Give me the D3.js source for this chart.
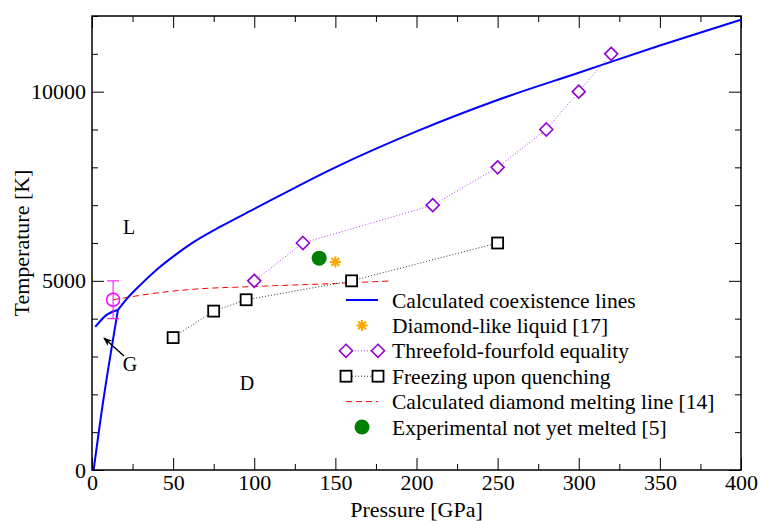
<!DOCTYPE html>
<html>
<head>
<meta charset="utf-8">
<script src="https://cdn.jsdelivr.net/npm/d3@7"></script>
</head>
<body style="margin:0;background:#fff">
<svg id="chart" width="760" height="521"></svg>
<script>
// coexistence lines (GPa, K)
const meltCurve = [[16, 4230], [20, 4450], [30, 4900], [40, 5300], [50, 5640], [60, 5950], [80, 6450],
  [100, 6900], [150, 8000], [200, 8950], [250, 9780], [300, 10500], [350, 11220], [400, 11900]];
const graphiteLiquid = [[2, 3780], [9, 4100], [16, 4230]];
const graphiteDiamond = [[1, 0], [7, 1850], [16, 4230]];
// other data sets
const diamondLiquid = [[150, 5500]];
const threefold = [[100, 5000], [130, 6000], [210, 7000], [250, 8000], [280, 9000], [300, 10000], [320, 11000]];
const freezing = [[50, 3500], [75, 4200], [95, 4500], [160, 5000], [250, 6000]];
const meltLine14 = [[13, 4500], [20, 4550], [40, 4680], [60, 4770], [100, 4850], [150, 4930], [185, 5000]];
const experimental = [[140, 5600]];
const graphitePoint = { x: 13, y: 4500, err: 500 };

const xTicks = d3.range(0, 401, 50);
const yTicks = [0, 5000, 10000];

const legendItems = [
  "Calculated coexistence lines",
  "Diamond-like liquid [17]",
  "Threefold-fourfold equality",
  "Freezing upon quenching",
  "Calculated diamond melting line [14]",
  "Experimental not yet melted [5]"
];

const svg = d3.select("#chart");
const m = { left: 92, right: 741, top: 16, bottom: 470 };

const x = d3.scaleLinear().domain([0, 400]).range([m.left, m.right]);
const y = d3.scaleLinear().domain([0, 12000]).range([m.bottom, m.top]);

const line = d3.line().x(d => x(d[0])).y(d => y(d[1]));

function label(sel, size) {
  return sel.style("font-family", "Liberation Serif").style("font-size", size + "px").attr("fill", "#000");
}

// ticks on all four sides, pointing inward
function tickSet(axisFn, scale, vals, len, translate, labels) {
  const g = svg.append("g").attr("transform", translate)
    .call(axisFn(scale).tickValues(vals).tickSizeInner(len).tickSizeOuter(0)
      .tickFormat(labels ? d3.format("d") : ""));
  g.attr("font-family", null).attr("font-size", null);
  g.select(".domain").remove();
  g.selectAll("line").attr("stroke", "#000").attr("stroke-width", 1);
  return g;
}
const xMinor = d3.range(25, 400, 50);
const yMinor = d3.range(1000, 12001, 1000).filter(v => v % 5000 !== 0);

const bx = tickSet(d3.axisBottom, x, xTicks, -12, `translate(0,${m.bottom})`, true);
label(bx.selectAll("text"), 22).attr("y", 4).attr("dy", "0.71em");
tickSet(d3.axisBottom, x, xMinor, -6, `translate(0,${m.bottom})`, false);
tickSet(d3.axisTop, x, xTicks, -12, `translate(0,${m.top})`, false);
tickSet(d3.axisTop, x, xMinor, -6, `translate(0,${m.top})`, false);

const ly = tickSet(d3.axisLeft, y, yTicks, -12, `translate(${m.left},0)`, true);
label(ly.selectAll("text"), 22).attr("x", -6);
tickSet(d3.axisLeft, y, yMinor, -6, `translate(${m.left},0)`, false);
tickSet(d3.axisRight, y, yTicks, -12, `translate(${m.right},0)`, false);
tickSet(d3.axisRight, y, yMinor, -6, `translate(${m.right},0)`, false);

// frame
svg.append("rect").attr("x", m.left).attr("y", m.top)
  .attr("width", m.right - m.left).attr("height", m.bottom - m.top)
  .attr("fill", "none").attr("stroke", "#000").attr("stroke-width", 1.5);

// axis titles
label(svg.append("text"), 22).attr("x", (m.left + m.right) / 2).attr("y", 517)
  .attr("text-anchor", "middle").text("Pressure [GPa]");
label(svg.append("text"), 22).attr("transform", `translate(29,${(m.top + m.bottom) / 2}) rotate(-90)`)
  .attr("text-anchor", "middle").text("Temperature [K]");

// red dashed melting line
svg.append("path").datum(meltLine14).attr("d", line.curve(d3.curveMonotoneX))
  .attr("fill", "none").attr("stroke", "#ff0000").attr("stroke-width", 1).attr("stroke-dasharray", "6,4");

// blue coexistence lines
[meltCurve, graphiteLiquid].forEach(c => {
  svg.append("path").datum(c).attr("d", line.curve(d3.curveMonotoneX))
    .attr("fill", "none").attr("stroke", "#0000ff").attr("stroke-width", 2);
});
svg.append("path").datum(graphiteDiamond).attr("d", line.curve(d3.curveMonotoneY))
  .attr("fill", "none").attr("stroke", "#0000ff").attr("stroke-width", 2);

// dotted connecting lines
svg.append("path").datum(threefold).attr("d", line.curve(d3.curveLinear))
  .attr("fill", "none").attr("stroke", "#b040f0").attr("stroke-width", 1).attr("stroke-dasharray", "1,2");
svg.append("path").datum(freezing).attr("d", line.curve(d3.curveLinear))
  .attr("fill", "none").attr("stroke", "#333").attr("stroke-width", 1).attr("stroke-dasharray", "1,2");

// marker helpers
function diamond(g, cx, cy) {
  g.append("path").attr("d", `M${cx},${cy - 6.5}L${cx + 6.5},${cy}L${cx},${cy + 6.5}L${cx - 6.5},${cy}Z`)
    .attr("fill", "#fff").attr("stroke", "#9400d3").attr("stroke-width", 1.6);
}
function square(g, cx, cy) {
  g.append("rect").attr("x", cx - 5.5).attr("y", cy - 5.5).attr("width", 11).attr("height", 11)
    .attr("fill", "#fff").attr("stroke", "#000").attr("stroke-width", 1.8);
}
function star(g, cx, cy) {
  const r = 5.5;
  const p = d3.range(4).map(i => {
    const a = i * Math.PI / 4;
    return `M${cx - r * Math.cos(a)},${cy - r * Math.sin(a)}L${cx + r * Math.cos(a)},${cy + r * Math.sin(a)}`;
  }).join("");
  g.append("path").attr("d", p).attr("stroke", "#ffa500").attr("stroke-width", 2);
}
function dot(g, cx, cy) {
  g.append("circle").attr("cx", cx).attr("cy", cy).attr("r", 7.5).attr("fill", "#008000");
}

const marks = svg.append("g");
threefold.forEach(d => diamond(marks, x(d[0]), y(d[1])));
freezing.forEach(d => square(marks, x(d[0]), y(d[1])));
diamondLiquid.forEach(d => star(marks, x(d[0]), y(d[1])));
experimental.forEach(d => dot(marks, x(d[0]), y(d[1])));

// graphite melting point with error bar
const gp = graphitePoint, gx = x(gp.x);
svg.append("line").attr("x1", gx).attr("x2", gx).attr("y1", y(gp.y + gp.err)).attr("y2", y(gp.y - gp.err))
  .attr("stroke", "#ff00ff").attr("stroke-width", 1);
[gp.y + gp.err, gp.y - gp.err].forEach(v => {
  svg.append("line").attr("x1", gx - 6).attr("x2", gx + 6).attr("y1", y(v)).attr("y2", y(v))
    .attr("stroke", "#ff00ff").attr("stroke-width", 1);
});
svg.append("circle").attr("cx", gx).attr("cy", y(gp.y)).attr("r", 6.5)
  .attr("fill", "none").attr("stroke", "#ff00ff").attr("stroke-width", 1.5);

// arrow from G
svg.append("defs").append("marker").attr("id", "ah").attr("viewBox", "0 0 10 10")
  .attr("refX", 9).attr("refY", 5).attr("markerWidth", 9).attr("markerHeight", 9)
  .attr("orient", "auto").attr("markerUnits", "userSpaceOnUse")
  .append("path").attr("d", "M0,1L10,5L0,9L3,5Z").attr("fill", "#000");
svg.append("line").attr("x1", 124).attr("y1", 356).attr("x2", 104).attr("y2", 338)
  .attr("stroke", "#000").attr("stroke-width", 1.5).attr("marker-end", "url(#ah)");

// phase labels
[["L", 129, 234], ["D", 247, 390], ["G", 130, 371]].forEach(t => {
  label(svg.append("text"), 20).attr("x", t[1]).attr("y", t[2]).attr("text-anchor", "middle").text(t[0]);
});

// legend
const lg = svg.append("g");
const lx0 = 346, lx1 = 378, ltx = 392;
legendItems.forEach((t, i) => {
  const ly0 = 300 + i * 25.4;
  if (i === 0) lg.append("line").attr("x1", lx0).attr("x2", lx1).attr("y1", ly0).attr("y2", ly0)
    .attr("stroke", "#0000ff").attr("stroke-width", 2);
  if (i === 1) star(lg, (lx0 + lx1) / 2, ly0);
  if (i === 2) {
    lg.append("line").attr("x1", lx0).attr("x2", lx1).attr("y1", ly0).attr("y2", ly0)
      .attr("stroke", "#b040f0").attr("stroke-dasharray", "1,2");
    diamond(lg, lx0, ly0); diamond(lg, lx1, ly0);
  }
  if (i === 3) {
    lg.append("line").attr("x1", lx0).attr("x2", lx1).attr("y1", ly0).attr("y2", ly0)
      .attr("stroke", "#333").attr("stroke-dasharray", "1,2");
    square(lg, lx0, ly0); square(lg, lx1, ly0);
  }
  if (i === 4) lg.append("line").attr("x1", lx0).attr("x2", lx1).attr("y1", ly0).attr("y2", ly0)
    .attr("stroke", "#ff0000").attr("stroke-dasharray", "6,4");
  if (i === 5) dot(lg, (lx0 + lx1) / 2, ly0);
  label(lg.append("text"), 21.5).attr("x", ltx).attr("y", ly0).attr("dy", "0.35em").text(t);
});
</script>
</body>
</html>
